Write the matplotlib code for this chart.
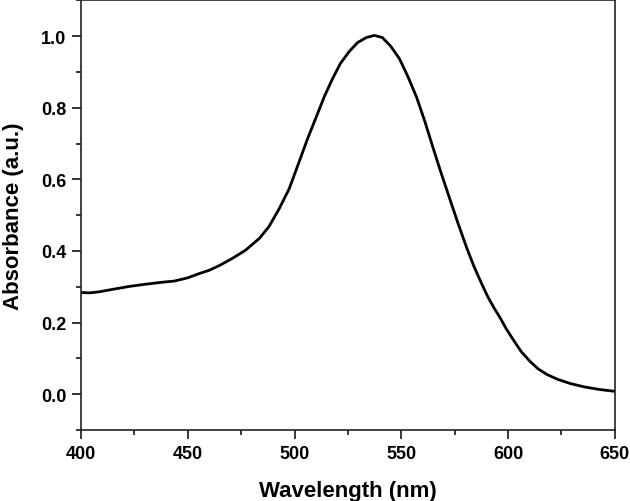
import matplotlib
matplotlib.use("Agg")
import matplotlib.pyplot as plt
from matplotlib.ticker import MultipleLocator

# absorbance spectrum
wavelength = [400, 404, 408.6, 415, 422.6, 430, 437, 443.7, 450, 455.4, 460, 465,
              470.8, 477, 483.5, 488, 492.8, 497.5, 502.2, 506, 510.2, 514,
              517.7, 521.5, 525.6, 529.5, 533.6, 537.4, 541.1, 545, 549.1,
              553, 557.1, 561, 564.6, 568.5, 572.6, 576.5, 580.6, 584, 587.5,
              590.5, 593.5, 596.2, 599, 602.2, 606, 610.2, 614, 618.2, 623,
              629, 636, 643, 650]
absorbance = [0.284, 0.283, 0.286, 0.293, 0.301, 0.307, 0.312, 0.316, 0.325, 0.337,
              0.346, 0.360, 0.379, 0.402, 0.435, 0.468, 0.518, 0.574, 0.650, 0.712,
              0.775, 0.832, 0.880, 0.924, 0.957, 0.982, 0.996, 1.002, 0.996, 0.972,
              0.937, 0.888, 0.830, 0.762, 0.693, 0.620, 0.547, 0.478, 0.409, 0.357,
              0.310, 0.272, 0.240, 0.214, 0.184, 0.154, 0.120, 0.092, 0.071, 0.055,
              0.042, 0.030, 0.020, 0.013, 0.008]

plt.rcParams['font.family'] = ['Liberation Sans', 'DejaVu Sans']
plt.rcParams['font.weight'] = 'bold'

fig = plt.figure(figsize=(6.3, 5.02), dpi=100)
ax = fig.add_axes([0.1286, 0.1414, 0.8474, 0.856])

ax.plot(wavelength, absorbance, color='black', lw=2.0)

ax.set_xlim(400, 650)
ax.set_ylim(-0.1, 1.1)
ax.xaxis.set_major_locator(MultipleLocator(50))
ax.xaxis.set_minor_locator(MultipleLocator(25))
ax.yaxis.set_major_locator(MultipleLocator(0.2))
ax.yaxis.set_minor_locator(MultipleLocator(0.1))
ax.set_yticks([0.0, 0.2, 0.4, 0.6, 0.8, 1.0])
ax.set_yticklabels(['0.0', '0.2', '0.4', '0.6', '0.8', '1.0'])

ax.tick_params(which='major', direction='out', length=6.5, width=1.1,
               labelsize=13, pad=4)
ax.tick_params(which='minor', direction='out', length=3.5, width=1.1)
ax.tick_params(top=False, right=False, which='both')
for s in ax.spines.values():
    s.set_linewidth(1.2)
    s.set_color('#222222')

ax.set_xlabel('Wavelength (nm)', fontsize=16, fontweight='bold', labelpad=13)
ax.set_ylabel('Absorbance (a.u.)', fontsize=16, fontweight='bold', labelpad=12)

fig.savefig('out.png', dpi=100)
